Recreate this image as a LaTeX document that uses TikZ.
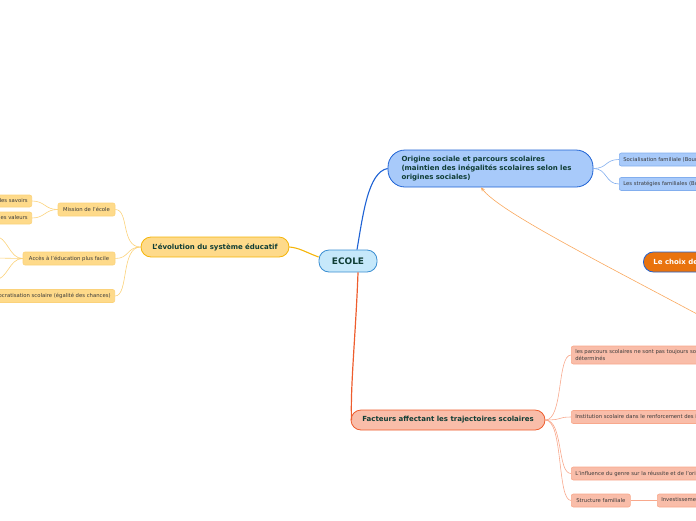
\documentclass[tikz,border=0pt]{standalone}
\usepackage{fontspec}
\setmainfont{DejaVu Sans}
\usetikzlibrary{positioning,arrows.meta}

\definecolor{ecoleFill}{HTML}{C6E8FA}
\definecolor{ecoleLine}{HTML}{3A8ED2}
\definecolor{blueFill}{HTML}{A8CAFA}
\definecolor{blueLine}{HTML}{1E62D4}
\definecolor{blueSub}{HTML}{82AEEE}
\definecolor{yelFill}{HTML}{FEDA8A}
\definecolor{yelLine}{HTML}{F5B50A}
\definecolor{yelSub}{HTML}{FBD27A}
\definecolor{redFill}{HTML}{F9BDA9}
\definecolor{redLine}{HTML}{EE5D2E}
\definecolor{redSub}{HTML}{F8A88C}
\definecolor{choixFill}{HTML}{E9730E}
\definecolor{linkLine}{HTML}{F9A85E}
\definecolor{mainText}{HTML}{0F3D35}
\definecolor{subText}{HTML}{3A3A3A}

\tikzset{
  topic/.style={draw, line width=0.8pt, rounded corners=10pt, font=\fontsize{7}{8.7}\selectfont\bfseries, text=mainText, minimum height=20pt, inner xsep=10pt},
  subtopic/.style={draw, line width=0.6pt, rounded corners=2pt, font=\fontsize{5.3}{6.5}\selectfont, text=subText, minimum height=13pt, inner xsep=4pt, inner ysep=1pt},
  yelsub/.style={subtopic, fill=yelFill, draw=yelSub},
  bluesub/.style={subtopic, fill=blueFill, draw=blueSub},
  redsub/.style={subtopic, fill=redFill, draw=redSub},
}

\begin{document}
\begin{tikzpicture}[x=1pt, y=-1pt]
    \useasboundingbox (0,0) rectangle (696,520);
    \clip (0,0) rectangle (696,520);

    % --- Central node ---
    \node[topic, fill=ecoleFill, draw=ecoleLine, minimum width=58pt, minimum height=22pt, font=\fontsize{9}{10}\selectfont\bfseries] (ecole) at (348,261) {ECOLE};

    % --- Main topics ---
    \node[topic, fill=blueFill, draw=blueLine, rounded corners=17pt, minimum width=205pt, minimum height=37pt, text width=178pt, align=left, inner xsep=13.5pt, inner ysep=2pt] (origine) at (490.5,168.5) {Origine sociale et parcours scolaires\\(maintien des inégalités scolaires selon les\\origines sociales)};
    \node[topic, fill=yelFill, draw=yelLine, minimum width=148pt] (evolution) at (215,247) {L'évolution du système éducatif};
    \node[topic, fill=redFill, draw=redLine, minimum width=194pt] (facteurs) at (448,420) {Facteurs affectant les trajectoires scolaires};
    \node[topic, fill=choixFill, draw=blueLine, text=white, anchor=west] (choix) at (643,262) {Le choix de l'orientation};

    % --- Yellow branch ---
    \node[yelsub, minimum width=57pt] (mission) at (86.5,209.5) {Mission de l'école};
    \node[yelsub, anchor=east, minimum height=12pt] (savoirs) at (32,201) {Transmission des savoirs};
    \node[yelsub, anchor=east, minimum height=12pt] (valeurs) at (32,218) {Transmission des valeurs};
    \node[yelsub, minimum width=92pt] (acces) at (69,258.5) {Accès à l'éducation plus facile};
    \node[yelsub, anchor=east] (democ) at (115,296) {Démocratisation scolaire (égalité des chances)};
    \coordinate (acces1) at (-6,236);
    \coordinate (acces2) at (-6,258);
    \coordinate (acces3) at (-6,280);

    % --- Blue branch ---
    \node[bluesub, anchor=west] (socialisation) at (619,159.5) {Socialisation familiale (Bourdieu)};
    \node[bluesub, anchor=west] (strategies) at (619,184) {Les stratégies familiales (Boudon)};

    % --- Red branch ---
    \node[redsub, anchor=west, minimum height=18pt, align=left] (parcours) at (571,355) {les parcours scolaires ne sont pas toujours socialement\\déterminés};
    \node[redsub, anchor=west] (institution) at (571,417) {Institution scolaire dans le renforcement des inégalités};
    \node[redsub, anchor=west] (genre) at (571,473.5) {L'influence du genre sur la réussite et de l'orientation};
    \node[redsub, anchor=west, minimum width=59pt] (structure) at (571,500.5) {Structure familiale};
    \node[redsub, anchor=west] (invest) at (657,500.5) {Investissement parental};

    % --- Main connectors ---
    \draw[blueLine, line width=1.1pt] ([xshift=9pt]ecole.north) .. controls (363,215) and (368,172) .. (origine.west);
    \draw[yelLine, line width=1.1pt] ([yshift=4pt]ecole.west) .. controls (305,252) and (300,248) .. (evolution.east);
    \draw[redLine, line width=1.2pt] ([xshift=10pt]ecole.south) .. controls (356,330) and (350,390) .. ([xshift=1pt]facteurs.west);

    % --- Sub connectors ---
    \draw[yelSub, line width=0.6pt] (evolution.west) .. controls +(-20,0) and +(14,0) .. (mission.east);
    \draw[yelSub, line width=0.6pt] (evolution.west) .. controls +(-14,0) and +(14,0) .. (acces.east);
    \draw[yelSub, line width=0.6pt] (evolution.west) .. controls +(-20,0) and +(14,0) .. (democ.east);
    \draw[yelSub, line width=0.6pt] (mission.west) .. controls +(-13,0) and +(13,0) .. (savoirs.east);
    \draw[yelSub, line width=0.6pt] (mission.west) .. controls +(-13,0) and +(13,0) .. (valeurs.east);
    \foreach \c in {acces1,acces2,acces3}
        \draw[yelSub, line width=0.6pt] (acces.west) .. controls +(-14,0) and +(14,0) .. (\c);

    \draw[blueSub, line width=0.6pt] (origine.east) .. controls +(14,0) and +(-14,0) .. (socialisation.west);
    \draw[blueSub, line width=0.6pt] (origine.east) .. controls +(14,0) and +(-14,0) .. (strategies.west);

    \foreach \c in {parcours,institution,genre,structure}
        \draw[redSub, line width=0.6pt] (facteurs.east) .. controls +(18,0) and +(-14,0) .. (\c.west);
    \draw[redSub, line width=0.6pt] (structure.east) -- (invest.west);

    % --- Cross link ---
    \coordinate (choixlink) at (712,322);
    \draw[linkLine, line width=0.6pt, -{Stealth[length=4pt, width=3.5pt]}] (choixlink) .. controls (600,262) and (500,212) .. ([xshift=-9.5pt]origine.south);
\end{tikzpicture}
\end{document}
